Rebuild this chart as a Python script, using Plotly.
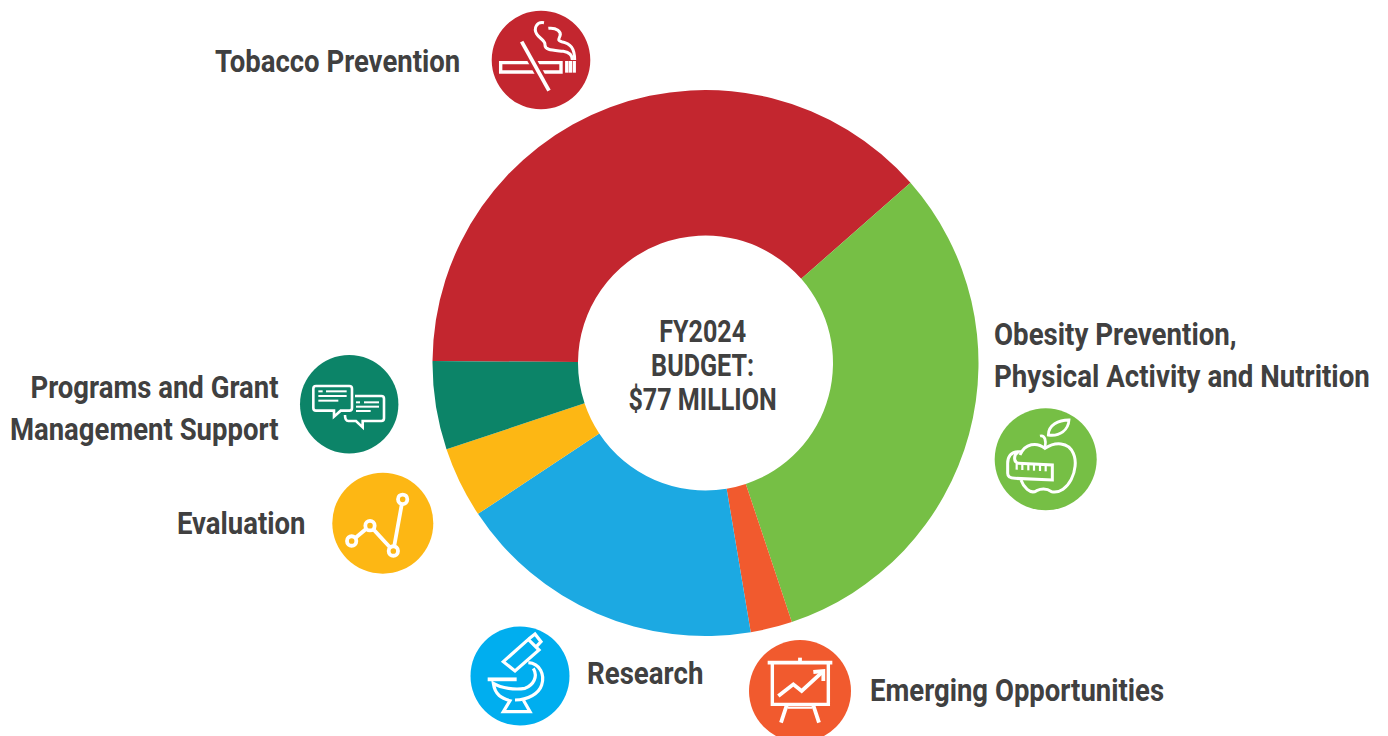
import re
import plotly.graph_objects as go

categories = ["Tobacco Prevention", "Obesity Prevention, Physical Activity and Nutrition",
              "Emerging Opportunities", "Research", "Evaluation",
              "Programs and Grant Management Support"]
shares = [38.41, 31.36, 2.47, 18.33, 4.2, 5.23]
colors = ["#C3262F", "#76BF45", "#F15A2E", "#1CA9E2", "#FDB714", "#0C8468"]
center_lines = ["FY2024", "BUDGET:", "$77 MILLION"]

W, H = 1388, 736
CX, CY, R = 705.5, 363, 273
INK = "#404040"
FONT = "Roboto"


def zp(ox, oy, d):
    """Map an SVG path drawn in 3x zoom coordinates to pixel coordinates."""
    toks = re.findall(r"[MLCQZ]|-?\d+\.?\d*", d)
    out, isx = [], True
    for t in toks:
        if t in "MLCQZ":
            out.append(t)
            isx = True
        else:
            v = float(t) / 3 + (ox if isx else oy)
            out.append(f"{v:.2f}")
            isx = not isx
    return " ".join(out)


shapes = []


def disc(cx, cy, r, col):
    shapes.append(dict(type="circle", xref="x", yref="y", x0=cx - r, x1=cx + r, y0=cy - r, y1=cy + r,
                       fillcolor=col, line_width=0, layer="above"))


def stroke(ox, oy, d, w=2.6, col="white", fill=None):
    shapes.append(dict(type="path", xref="x", yref="y", path=zp(ox, oy, d), layer="above",
                       line=dict(color=col, width=w), fillcolor=fill or "rgba(0,0,0,0)"))


# Tobacco icon
disc(541, 60, 49.3, colors[0])
o = (480, 0)
stroke(*o, "M 62 188 L 243 188 L 243 216 L 62 216 Z", 3.4)
stroke(*o, "M 125 125 L 207 272", 9, colors[0])
stroke(*o, "M 125 125 L 207 272", 3.8)
stroke(*o, "M 260 183 L 260 218", 3.2)
stroke(*o, "M 271 183 L 271 218", 3.6)
stroke(*o, "M 283 183 L 283 218", 3.2)
stroke(*o, "M 192 68 C 170 64 160 85 170 102 C 178 116 196 120 195 135 C 195 150 215 150 250 154 C 270 157 277 165 277 180", 3)
stroke(*o, "M 205 85 C 230 82 245 95 240 108 C 236 118 232 122 245 125 C 272 130 284 145 284 180", 3)

# Apple icon
disc(1045.7, 459.3, 51, colors[1])
o = (985, 400)
stroke(*o, "M 105 165 C 120 130 155 125 180 145 C 210 125 250 125 265 160 C 285 205 250 285 200 275 C 185 265 170 265 155 272 C 135 285 115 260 108 240", 3)
stroke(*o, "M 190 105 C 190 75 220 60 252 60 C 250 90 225 110 190 105 Z", 2.8)
stroke(*o, "M 180 142 C 184 122 180 104 165 108", 2.8)
stroke(*o, "M 100 155 C 78 155 68 170 68 190 L 68 220 C 68 232 80 235 90 235 L 202 240 L 202 195 L 100 190 C 85 185 85 165 100 155 Z", 3, "white", colors[1])
for tx, ty in [(95, 191), (112, 192), (130, 193), (147, 194), (165, 195), (182, 196)]:
    stroke(*o, f"M {tx} {ty} L {tx} {ty + 18}", 2.2)

# Chat icon
disc(349.2, 404.2, 49.2, colors[5])
o = (290, 350)
stroke(*o, "M 78 108 L 178 108 Q 186 108 186 116 L 186 174 Q 186 182 178 182 L 152 182 L 132 200 L 132 182 L 78 182 Q 70 182 70 174 L 70 116 Q 70 108 78 108 Z", 2.6)
for seg in ["M 85 124 L 98 124", "M 108 124 L 170 124", "M 85 138 L 170 138", "M 85 152 L 145 152",
            "M 198 157 L 210 157", "M 222 157 L 267 157", "M 198 170 L 267 170", "M 198 183 L 242 183"]:
    stroke(*o, seg, 2)
stroke(*o, "M 195 138 L 274 138 Q 282 138 282 146 L 282 205 Q 282 213 274 213 L 218 213 L 218 232 L 198 213 L 175 213 Q 165 213 165 195", 2.6)

# Evaluation icon
disc(382.8, 523.2, 50.5, colors[4])
stroke(*o, "M 185 573 L 240 527 L 310 603 L 338 448", 3.8)
for px, py in [(185, 573), (240, 527), (310, 603), (338, 448)]:
    stroke(*o, f"M {px - 14} {py} C {px - 14} {py - 19} {px + 14} {py - 19} {px + 14} {py} C {px + 14} {py + 19} {px - 14} {py + 19} {px - 14} {py} Z",
           3.8, "white", colors[4])

# Research icon
disc(520, 676, 49.5, "#00AEEF")
o = (465, 620)
stroke(*o, "M 115 125 L 190 58 L 222 90 L 150 153 Z", 3.2)
stroke(*o, "M 192 56 L 210 42 L 228 65 L 214 80", 3.2)
stroke(*o, "M 190 128 C 225 130 240 165 230 195 C 222 220 190 240 150 240", 3.2)
stroke(*o, "M 205 145 C 220 170 205 195 180 205 C 150 210 110 205 85 190 C 90 225 110 235 135 242 L 115 275 L 195 275 L 175 240", 3.2)
stroke(*o, "M 68 178 L 155 178", 3.8)

# Emerging icon
disc(800, 691, 51, colors[2])
o = (745, 636)
stroke(*o, "M 68 80 L 262 80", 3.8)
stroke(*o, "M 165 65 L 165 78", 3.8)
stroke(*o, "M 82 82 L 82 205 L 250 205 L 250 82", 3.4)
stroke(*o, "M 125 208 L 108 260", 3.8)
stroke(*o, "M 205 208 L 222 260", 3.8)
stroke(*o, "M 128 215 L 202 215", 2.2)
stroke(*o, "M 100 180 L 145 145 L 170 165 L 230 110", 3.8)
stroke(*o, "M 205 108 L 235 105 L 235 135", 3.8)

fig = go.Figure(go.Pie(
    labels=categories, values=shares, hole=127.5 / 273, sort=False, direction="clockwise",
    rotation=270.4, textinfo="none", marker=dict(colors=colors, line=dict(width=0)),
    domain=dict(x=[(CX - R) / W, (CX + R) / W], y=[1 - (CY + R) / H, 1 - (CY - R) / H]),
    showlegend=False, hoverinfo="label+percent",
))


def label(x, y, text, anchor, align="left", size=32):
    return dict(x=x, y=y, xref="x", yref="y", text=text, showarrow=False, xanchor=anchor, yanchor="middle",
                align=align, font=dict(family=FONT, size=size, color=INK, weight="bold"))


fig.update_layout(
    width=W, height=H, margin=dict(l=0, r=0, t=0, b=0), paper_bgcolor="white", plot_bgcolor="rgba(0,0,0,0)",
    xaxis=dict(range=[0, W], visible=False, fixedrange=True),
    yaxis=dict(range=[H, 0], visible=False, fixedrange=True),
    shapes=shapes,
    annotations=[
        label(462, 61, "Tobacco Prevention", "right"),
        label(992, 355, "Obesity Prevention,<br>Physical Activity and Nutrition", "left"),
        label(281, 408, "Programs and Grant<br>Management Support", "right", "right"),
        label(308, 523, "Evaluation", "right"),
        label(585, 673, "Research", "left"),
        label(868, 690, "Emerging Opportunities", "left"),
        label(702, 331, center_lines[0], "center", "center", 31),
        label(702, 365, center_lines[1], "center", "center", 31),
        label(702, 399, center_lines[2], "center", "center", 31),
    ],
)

# The reference face is a condensed gothic: narrow the real text around each label's anchor.
narrow = """
var AN = ['r','l','r','r','l','l','c','c','c'];
var SX = [0.86,0.865,0.86,0.86,0.865,0.86,0.81,0.81,0.81];
document.querySelectorAll('text.annotation-text').forEach(function(t, i){
  var b = t.getBBox();
  var a = AN[i] == 'r' ? b.x + b.width : AN[i] == 'l' ? b.x : b.x + b.width / 2;
  t.setAttribute('transform', 'translate(' + a + ',0) scale(' + SX[i] + ',1) translate(' + (-a) + ',0)');
});
document.body.style.margin = '0';
"""
fig.write_html("out.html", post_script=narrow, config=dict(displayModeBar=False))
